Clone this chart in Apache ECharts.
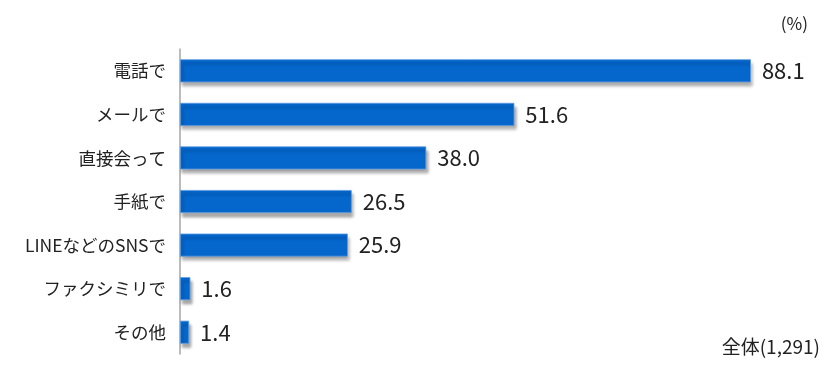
<!DOCTYPE html>
<html>
<head>
<meta charset="utf-8">
<script src="https://cdn.jsdelivr.net/npm/echarts@6/dist/echarts.min.js"></script>
<style>html,body{margin:0;padding:0;background:#fff}#c{width:840px;height:377px}</style>
</head>
<body>
<div id="c"></div>
<script>
const categories = ['電話で', 'メールで', '直接会って', '手紙で', 'LINEなどのSNSで', 'ファクシミリで', 'その他'];
const values = [88.1, 51.6, 38.0, 26.5, 25.9, 1.6, 1.4];
const unitLabel = '(%)';
const baseLabel = '全体(1,291)';

const chart = echarts.init(document.getElementById('c'));
const font = '"Noto Sans CJK JP", "Noto Sans", sans-serif';
chart.setOption({
  animation: false,
  grid: { left: 180, right: 12, top: 49, bottom: 23 },
  xAxis: { type: 'value', min: 0, max: 100, show: false },
  yAxis: {
    type: 'category', data: categories, inverse: true,
    axisLine: { show: true, lineStyle: { color: '#a6a6a6', width: 1.5 } },
    axisTick: { show: false },
    axisLabel: { color: '#222', fontSize: 17.5, fontFamily: font, margin: 14 }
  },
  series: [{
    type: 'bar', data: values, barWidth: 23,
    itemStyle: {
      color: '#0566CC',
      borderColor: '#5a9be0', borderWidth: 0.8,
      shadowColor: 'rgba(0,0,0,0.35)', shadowBlur: 3, shadowOffsetX: 2, shadowOffsetY: 4
    },
    label: {
      show: true, position: 'right', distance: 11,
      color: '#222', fontSize: 22, fontFamily: font,
      formatter: p => p.value.toFixed(1)
    }
  }],
  graphic: [
    { type: 'text', right: 32, top: 15, style: { text: unitLabel, fill: '#222', fontSize: 17, fontFamily: font } },
    { type: 'text', right: 20, top: 337, style: { text: baseLabel, fill: '#222', fontSize: 19, fontFamily: font } }
  ]
});
</script>
</body>
</html>
